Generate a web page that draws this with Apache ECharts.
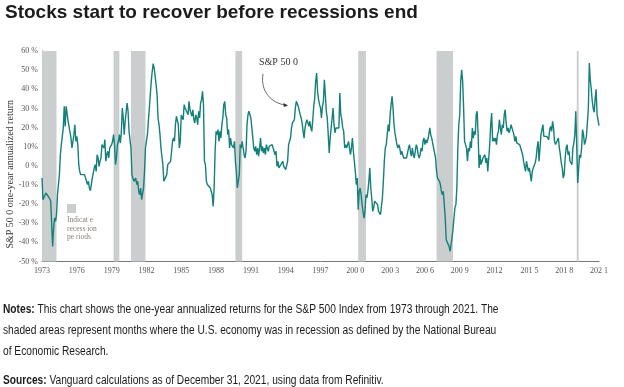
<!DOCTYPE html>
<html>
<head>
<meta charset="utf-8">
<script src="https://cdn.jsdelivr.net/npm/echarts@6/dist/echarts.min.js"></script>
<style>
html,body{margin:0;padding:0;background:#fff;}
#chart{width:624px;height:387px;}
</style>
</head>
<body>
<div id="chart"></div>
<script>
// Month offsets counted from Dec 1973 (offset 0)
const monthOffsets = [0,1,3,4,5,8,9,11,12,13,14,15,16,18,19,20,21,22,23,24,25,26,27,28,30,31,32,33,34,35,36,37,38,39,40,42,44,45,46,47,48,49,50,51,52,54,55,56,57,58,59,60,61,62,63,64,65,66,67,68,69,70,72,73,74,75,76,77,78,79,80,81,82,83,84,85,86,87,88,89,90,92,93,94,95,97,98,99,100,101,102,103,104,105,106,107,108,109,110,111,112,113,114,115,116,118,119,120,121,122,123,125,126,127,128,129,130,131,132,133,135,136,137,138,139,140,141,142,143,144,146,147,148,150,151,152,153,154,155,156,157,158,159,160,161,162,163,164,165,166,167,168,169,170,171,172,174,175,176,177,178,179,180,181,182,183,184,185,186,187,188,189,190,191,192,193,194,195,196,197,198,199,200,201,202,203,204,205,206,207,208,209,210,211,212,213,214,216,217,218,219,220,221,222,223,224,225,226,227,228,229,230,231,232,233,234,235,236,237,238,239,240,241,242,243,244,245,247,248,249,250,251,252,253,254,255,256,257,258,259,260,261,262,263,264,265,266,267,268,269,270,271,272,273,274,276,277,278,279,280,281,282,283,284,285,286,287,288,289,290,291,292,293,294,295,296,297,298,299,300,301,302,303,304,305,306,307,308,309,310,311,312,313,314,315,317,318,319,320,321,322,323,324,325,326,327,328,329,330,331,332,333,334,335,336,337,338,339,340,341,342,343,344,345,347,348,349,350,351,352,353,354,355,356,357,358,359,360,361,362,363,364,365,366,367,368,369,370,371,372,373,374,375,377,378,379,380,381,382,383,384,385,386,387,388,389,390,391,392,393,394,395,396,397,398,399,400,401,402,403,404,405,407,408,409,410,411,412,413,414,415,416,417,418,419,420,421,422,423,424,425,426,427,428,429,430,431,432,433,434,435,436,437,438,439,440,441,442,443,444,445,446,447,448,449,450,451,452,453,454,455,456,458,459,460,461,462,463,464,465,466,467,468,469,470,471,472,473,474,475,476,477,478,479,480,481,482,483,484,485,486,488,489,490,491,492,493,494,495,496,497,498,499,500,501,502,503,504,505,506,507,508,509,510,511,512,513,514,515,516,518,519,520,521,522,523,524,525,526,527,528,529,530,531,532,533,534,535,536,537,538,539,540,541,542,543,544,545,546,548,549,550,551,552,553,554,555,556,557,558,559,560,561,562,563,564,565,566,567,568,569,570,571,572,573,574,575,576];
const returns = [-6.4,-17.7,-16.8,-14.2,-15.1,-17.2,-18.5,-42.1,-32.5,-27.3,-29.0,-25.5,-15.1,-4.6,5.8,11.1,10.2,19.8,31.1,20.6,31.1,31.1,23.3,22.4,14.5,9.3,10.2,16.3,21.5,12.8,15.4,11.1,0.6,-2.9,-4.6,-3.7,-4.6,-5.5,-8.1,-9.8,-8.1,-11.6,-13.0,-12.4,-6.4,-1.1,0.6,-2.9,5.8,4.1,-0.3,2.4,4.1,11.1,11.9,9.3,13.7,2.4,5.8,7.6,4.1,9.3,11.1,12.8,16.3,11.1,0.6,4.1,11.1,12.8,16.3,11.9,17.2,30.2,25.0,16.3,23.3,24.1,32.8,28.5,18.0,9.3,-4.6,-5.5,-8.1,-6.4,-9.8,-8.1,-13.3,-15.1,-11.6,-17.7,-18.5,-11.6,-2.9,9.3,10.2,16.3,23.3,30.2,37.2,44.2,49.4,53.4,51.1,42.4,37.2,25.0,21.5,16.3,9.3,0.6,-8.1,-9.0,-7.2,-4.6,0.6,1.5,0.6,2.4,12.8,14.5,12.8,21.5,25.9,26.7,21.5,9.3,12.8,26.5,24.1,32.0,30.2,31.1,26.7,33.7,29.3,28.5,25.9,29.3,24.1,22.4,26.7,25.0,21.5,28.5,25.0,32.8,34.6,38.9,32.0,2.4,0.6,-8.1,-9.8,-9.8,-11.6,-10.7,-15.1,-21.2,-11.6,7.6,18.0,16.3,18.9,12.8,18.0,14.5,21.5,25.0,32.0,33.7,26.7,25.0,16.3,18.9,9.3,14.5,11.1,11.9,9.3,12.8,2.4,-2.9,-11.6,-8.1,-4.6,11.1,9.3,12.8,9.3,5.8,4.1,7.6,21.5,26.7,28.5,25.0,19.8,14.5,9.3,7.6,10.2,5.8,9.3,5.0,9.3,14.5,7.6,10.2,6.7,9.3,5.8,11.1,9.3,7.6,10.2,9.3,10.2,11.1,9.3,9.3,5.8,7.6,-0.3,2.4,-1.1,0.6,1.5,2.4,-0.3,-1.1,-2.0,-2.5,2.4,11.1,12.8,14.5,19.8,22.4,21.5,24.1,30.2,33.7,34.6,31.1,30.2,26.7,25.0,22.4,18.0,14.5,19.8,22.4,24.1,20.6,23.3,19.8,18.0,24.1,31.1,35.4,44.2,48.5,38.9,34.6,32.0,30.2,25.0,31.1,33.7,45.0,37.2,28.5,25.0,16.3,6.7,14.5,19.8,25.0,30.2,21.5,17.2,19.8,18.9,20.6,19.8,38.1,26.7,24.1,19.8,18.0,9.3,11.1,9.3,12.8,9.3,5.8,9.3,14.5,7.6,2.4,-2.9,-9.8,-6.4,-22.9,-13.3,-11.6,-15.1,-20.3,-23.8,-27.3,-23.8,-15.1,-16.8,-13.3,-8.1,-1.1,-11.6,-16.8,-23.8,-22.0,-18.5,-17.7,-20.3,-23.8,-23.8,-25.5,-26.4,-16.8,-8.1,2.4,9.3,11.1,16.3,21.5,18.0,26.7,32.0,36.3,30.2,21.5,17.2,16.3,11.1,9.3,11.1,9.3,5.8,7.6,5.8,4.1,5.0,4.1,5.0,9.3,11.1,7.6,5.0,9.3,5.8,4.1,7.6,11.1,9.3,5.8,4.1,5.8,9.3,7.6,12.8,14.5,11.1,13.7,11.9,13.7,16.3,19.8,16.3,14.5,13.7,9.3,4.1,-2.9,-6.4,-7.2,-8.1,-9.8,-13.3,-15.1,-13.3,-20.3,-27.3,-38.6,-39.4,-38.6,-42.1,-44.7,-41.2,-37.7,-33.3,-27.3,-22.0,-20.3,-11.6,9.3,21.5,26.7,44.2,50.2,44.2,30.2,12.8,11.1,9.3,2.4,9.3,7.6,12.8,9.3,19.8,14.5,18.0,16.3,26.7,28.5,16.3,-1.1,5.8,0.6,2.4,4.1,5.8,1.5,4.1,-2.9,4.1,11.1,21.5,27.6,12.8,14.5,12.8,14.5,11.1,16.3,18.0,24.1,19.8,16.3,21.5,19.8,26.7,29.3,22.4,18.0,19.8,17.2,18.9,21.5,19.8,16.3,12.8,15.4,11.9,11.1,11.9,11.1,9.3,7.6,5.8,2.4,1.5,-2.9,2.4,-0.3,-2.9,-1.1,-4.6,-8.1,-2.9,-1.1,-0.3,1.5,4.1,9.3,12.8,2.4,9.3,16.3,21.5,15.4,15.4,14.5,15.4,14.5,13.7,18.9,20.6,18.0,23.3,19.8,12.8,11.1,11.9,11.1,14.5,9.3,5.8,1.5,-1.1,-6.4,-4.6,4.1,9.3,11.1,5.8,7.6,2.4,0.6,9.3,11.9,16.3,28.5,9.3,-9.0,-1.1,5.8,4.1,9.3,18.9,16.3,11.1,12.8,15.4,16.3,30.2,53.7,45.0,40.0,34.0,30.0,28.0,35.0,40.0,27.0,24.0,21.0];
// Recession periods (month offsets from Dec 1973)
const recessionStart = [0, 74, 92, 200, 327, 408, 553];
const recessionEnd   = [15, 80, 107, 207, 335, 425, 555];
// Axis tick labels
const xTickLabels = ['1973','1976','1979','1982','1985','1988','1991','1994','1997','200 0','200 3','200 6','200 9','2012','201 5','201 8','202 1'];
const yTickLabels = ['-50 %','-40 %','-30 %','-20 %','-10 %','0 %','10%','20 %','30 %','40 %','50 %','60 %'];

const serif = "'Liberation Serif','DejaVu Serif',serif";
const sans = "'Liberation Sans',Arial,sans-serif";
const bandColor = '#cbcecf';
const lineColor = '#14807a';

const chart = echarts.init(document.getElementById('chart'), null, {renderer:'canvas'});
const lineData = monthOffsets.map((m, i) => [m, returns[i]]);
const bands = recessionStart.map((s, i) => [{xAxis: s}, {xAxis: recessionEnd[i]}]);

chart.setOption({
  animation: false,
  backgroundColor: '#fff',
  grid: {left: 42, right: 25, top: 51, bottom: 125.5, containLabel: false},
  xAxis: {
    type: 'value', min: 0, max: 576, interval: 36,
    axisLine: {show: true, onZero: false, lineStyle: {color: '#777', width: 1}},
    axisTick: {show: false},
    splitLine: {show: false},
    axisLabel: {
      formatter: v => xTickLabels[Math.round(v / 36)],
      fontFamily: serif, fontSize: 8, color: '#555', margin: 5
    }
  },
  yAxis: {
    type: 'value', min: -50, max: 60, interval: 10,
    axisLine: {show: true, onZero: false, lineStyle: {color: '#777', width: 1}},
    axisTick: {show: false},
    splitLine: {show: false},
    axisLabel: {
      formatter: v => yTickLabels[Math.round((v + 50) / 10)],
      fontFamily: serif, fontSize: 8, color: '#555', margin: 4
    }
  },
  series: [{
    type: 'line',
    data: lineData,
    showSymbol: false,
    z: 3,
    lineStyle: {color: lineColor, width: 1.4},
    markArea: {
      silent: true,
      itemStyle: {color: bandColor},
      data: bands
    }
  }],
  graphic: [
    {type: 'text', x: 5, y: 3, style: {
      text: 'Stocks start to recover before recessions end', fill: '#1b1b1b',
      font: "bold 19px " + sans, textVerticalAlign: 'top'
    }},
    {type: 'text', left: 5, top: 100, rotation: Math.PI / 2, style: {
      text: 'S&P 50 0 one-year annualized return', fill: '#333', font: "10px " + serif
    }},
    {type: 'rect', shape: {x: 67, y: 204, width: 9, height: 9}, style: {fill: bandColor}},
    {type: 'text', x: 67, y: 216, style: {
      text: 'Indicat e\nrecess ion\npe riods', fill: '#8a7d76', font: "7.5px " + serif, lineHeight: 8.5
    }},
    {type: 'text', x: 259, y: 57, style: {text: 'S&P 50 0', fill: '#333', font: "10px " + serif}},
    {type: 'bezierCurve', shape: {x1: 263, y1: 74, cpx1: 260, cpy1: 92, cpx2: 272, cpy2: 103, x2: 285, y2: 105},
      style: {stroke: '#444', lineWidth: 0.8, fill: null}},
    {type: 'polygon', shape: {points: [[288, 105.5], [283.5, 103], [283.8, 107]]}, style: {fill: '#333'}},
    {type: 'text', x: 3, y: 299, scaleX: 0.85, style: {
      rich: {
        b: {fontFamily: sans, fontWeight: 'bold', fontSize: 12, fill: '#1b1b1b'},
        n: {fontFamily: sans, fontSize: 12, fill: '#1b1b1b', lineHeight: 21}
      },
      text: '{b|Notes:}{n| This chart shows the one-year annualized returns for the S&P 500 Index from 1973 through 2021. The}\n{n|shaded areas represent months where the U.S. economy was in recession as defined by the National Bureau}\n{n|of Economic Research.}'
    }},
    {type: 'text', x: 3, y: 375, scaleX: 0.85, style: {
      rich: {
        b: {fontFamily: sans, fontWeight: 'bold', fontSize: 12, fill: '#1b1b1b'},
        n: {fontFamily: sans, fontSize: 12, fill: '#1b1b1b'}
      },
      text: '{b|Sources:}{n| Vanguard calculations as of December 31, 2021, using data from Refinitiv.}'
    }}
  ]
});
</script>
</body>
</html>
